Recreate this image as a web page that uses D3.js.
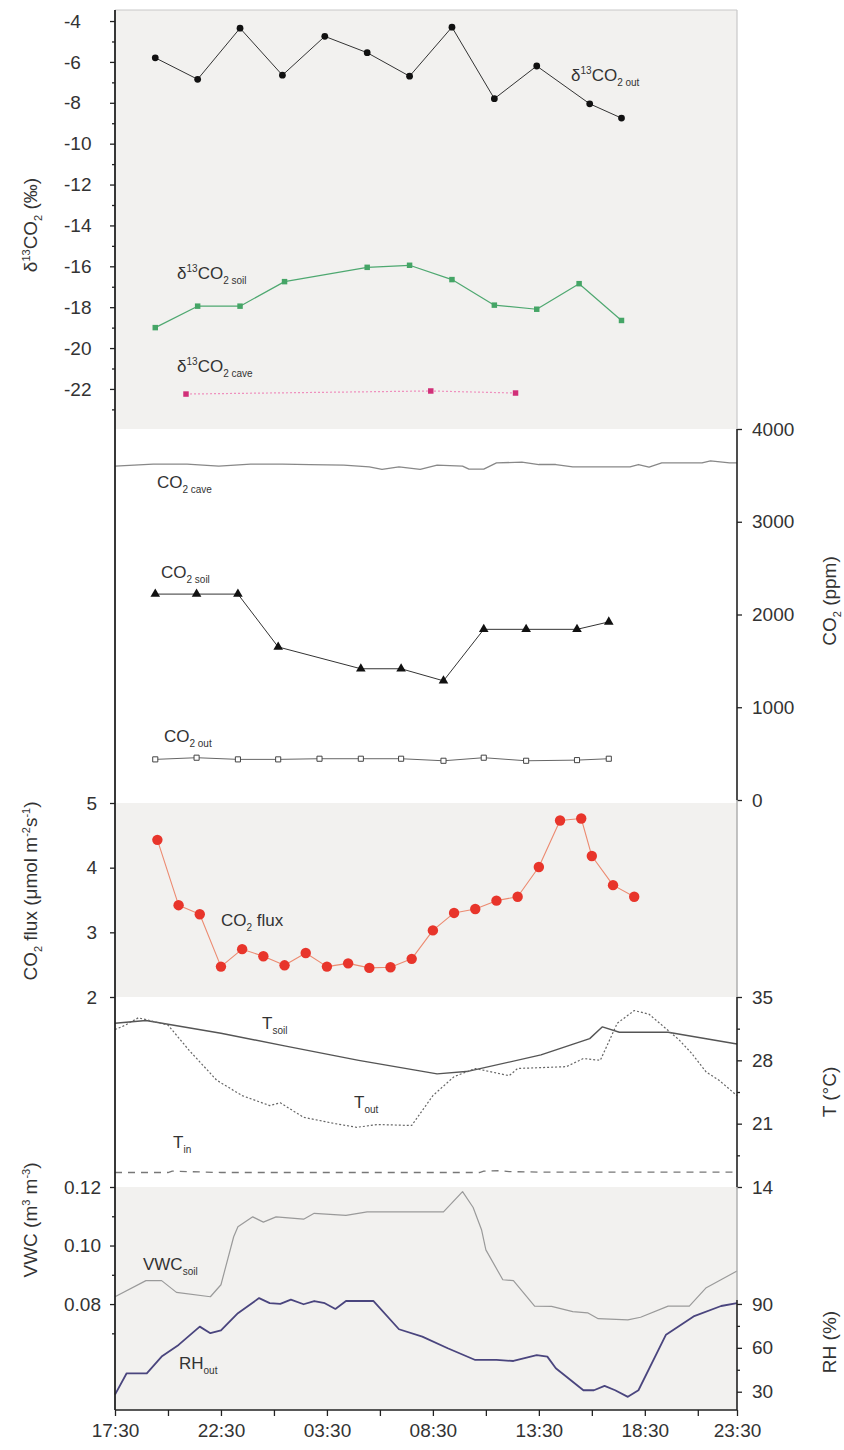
<!DOCTYPE html>
<html>
<head>
<meta charset="utf-8">
<script src="https://cdn.jsdelivr.net/npm/d3@7"></script>
<style>
  body { margin: 0; background: #fff; }
  svg text { font-family: "Liberation Sans", Arial, Helvetica, sans-serif; fill: #333; }
</style>
</head>
<body>
<div id="chart"></div>
<script>
// all x values are hours after 17:30 on day 1

// d13C panel
const hoursD13Out = [1.9, 3.9, 5.9, 7.9, 9.9, 11.9, 13.9, 15.9, 17.9, 19.9, 22.4, 23.9];
const d13Out = [-5.8, -6.85, -4.35, -6.65, -4.75, -5.55, -6.7, -4.3, -7.8, -6.2, -8.05, -8.75];
const hoursD13Soil = [1.9, 3.9, 5.9, 8.0, 11.9, 13.9, 15.9, 17.9, 19.9, 21.9, 23.9];
const d13Soil = [-19.0, -17.95, -17.95, -16.75, -16.05, -15.95, -16.65, -17.9, -18.1, -16.85, -18.65];
const hoursD13Cave = [3.35, 14.9, 18.9];
const d13Cave = [-22.25, -22.1, -22.2];

// CO2 concentrations (ppm)
const hoursCO2Cave = [0, 1.8, 3.4, 4.9, 6.4, 7.9, 9.2, 10.8, 12.0, 12.6, 13.4, 14.4, 15.2, 16.4, 16.7, 17.4, 18.0, 19.2, 20.0, 20.8, 21.6, 24.3, 24.7, 25.2, 25.8, 27.7, 28.1, 29.0, 29.35];
const co2Cave = [3599, 3621, 3621, 3599, 3621, 3621, 3615, 3610, 3592, 3564, 3592, 3564, 3610, 3599, 3567, 3567, 3635, 3642, 3617, 3617, 3592, 3592, 3617, 3588, 3635, 3635, 3656, 3635, 3635];
const hoursCO2Soil = [1.9, 3.85, 5.8, 7.7, 11.6, 13.5, 15.5, 17.4, 19.4, 21.8, 23.3];
const co2Soil = [2220, 2220, 2220, 1650, 1415, 1415, 1285, 1840, 1840, 1840, 1920];
const hoursCO2Out = [1.9, 3.85, 5.8, 7.7, 9.65, 11.6, 13.5, 15.5, 17.4, 19.4, 21.8, 23.3];
const co2Out = [438, 456, 438, 438, 445, 445, 445, 423, 456, 423, 430, 445];

// soil CO2 flux (umol m-2 s-1)
const hoursFlux = [2, 3, 4, 5, 6, 7, 8, 9, 10, 11, 12, 13, 14, 15, 16, 17, 18, 19, 20, 21, 22, 22.5, 23.5, 24.5];
const flux = [4.43, 3.42, 3.28, 2.47, 2.74, 2.63, 2.49, 2.68, 2.47, 2.52, 2.45, 2.46, 2.59, 3.03, 3.30, 3.36, 3.49, 3.55, 4.01, 4.73, 4.76, 4.18, 3.73, 3.55];

// temperatures (deg C)
const hoursTsoil = [0, 1.46, 5.0, 8.0, 11.5, 15.2, 16.7, 20.1, 22.4, 23.0, 23.8, 26.1, 29.35];
const tSoil = [32.1, 32.4, 31.0, 29.6, 28.0, 26.5, 26.8, 28.6, 30.4, 31.7, 31.1, 31.1, 29.8];
const hoursTout = [0, 0.5, 1.1, 2.5, 3.5, 4.8, 6.0, 7.3, 7.8, 8.9, 10.4, 11.4, 12.4, 14.0, 15.0, 16.0, 17.0, 18.6, 19.0, 21.3, 22.1, 22.9, 23.7, 24.5, 25.2, 26.6, 27.2, 27.9, 28.5, 29.35];
const tOut = [31.4, 31.9, 32.7, 31.9, 29.1, 25.8, 24.1, 23.0, 23.3, 21.7, 21.0, 20.6, 20.9, 20.8, 24.1, 26.2, 27.1, 26.3, 27.1, 27.3, 28.2, 28.0, 32.1, 33.5, 33.1, 30.3, 28.8, 26.7, 25.8, 24.1];
const hoursTin = [0, 2.5, 2.7, 5, 10, 15, 17.2, 17.4, 18.2, 18.6, 20, 25, 29.35];
const tIn = [15.6, 15.6, 15.75, 15.6, 15.6, 15.6, 15.6, 15.75, 15.8, 15.7, 15.65, 15.65, 15.65];

// soil water content (m3 m-3) and outside humidity (%)
const hoursVWC = [0, 1.46, 2.2, 2.9, 4.5, 5.0, 5.6, 5.8, 6.5, 7.0, 7.6, 8.9, 9.4, 10.9, 11.9, 15.5, 16.4, 16.9, 17.3, 17.5, 18.3, 18.8, 19.8, 20.6, 21.6, 22.3, 22.8, 24.2, 24.8, 26.1, 27.1, 27.9, 29.35];
const vwcSoil = [0.0825, 0.088, 0.088, 0.084, 0.0825, 0.0866, 0.103, 0.1064, 0.1098, 0.108, 0.1098, 0.109, 0.111, 0.1103, 0.1115, 0.1115, 0.1184, 0.113, 0.1053, 0.0985, 0.0883, 0.088, 0.0793, 0.0792, 0.0774, 0.077, 0.075, 0.0746, 0.0755, 0.0793, 0.0793, 0.0856, 0.0913];
const hoursRH = [0, 0.55, 1.5, 2.2, 3.0, 4.0, 4.5, 5.0, 5.8, 6.8, 7.3, 7.8, 8.3, 8.9, 9.4, 9.9, 10.4, 10.9, 12.2, 13.4, 14.5, 15.7, 17.0, 18.0, 18.8, 19.9, 20.4, 20.8, 22.1, 22.6, 23.1, 23.6, 24.2, 24.7, 26.0, 27.3, 28.6, 29.35];
const rhOut = [28, 42.6, 42.6, 54, 62, 74.5, 70, 72, 83.7, 94, 90.6, 90, 93, 89.8, 92, 90.5, 86.6, 92, 92, 72.7, 67.7, 59.7, 51.7, 51.7, 51, 55, 54, 46, 31, 31, 34, 31, 26.5, 31, 69, 81.5, 88.6, 90.5];

// axis ticks
const xMajor = [0, 5, 10, 15, 20, 25, 29.35];
const xMinor = [2.5, 7.5, 12.5, 17.5, 22.5, 27.5];
const xLabels = ["17:30", "22:30", "03:30", "08:30", "13:30", "18:30", "23:30"];
const d13Ticks = [-22, -20, -18, -16, -14, -12, -10, -8, -6, -4];
const co2Ticks = [0, 1000, 2000, 3000, 4000];
const fluxTicks = [2, 3, 4, 5];
const tTicks = [14, 21, 28, 35];
const vwcTicks = [0.08, 0.10, 0.12];
const rhTicks = [30, 60, 90];

const W = 844, H = 1450;
const svg = d3.select("#chart").append("svg")
  .attr("width", W).attr("height", H)
  .style("display", "block");

var x = d3.scaleLinear().domain([0, 29.35]).range([115, 737]);
var yD13 = d3.scaleLinear().domain([-23.96, -3.46]).range([429, 10]);
var yCO2 = d3.scaleLinear().domain([0, 4000]).range([800, 429]);
var yFlux = d3.scaleLinear().domain([2, 5]).range([997, 803]);
var yT = d3.scaleLinear().domain([14, 35]).range([1187, 997]);
var yVWC = d3.scaleLinear().domain([0.0438, 0.12]).range([1410, 1187]);
var yRH = d3.scaleLinear().domain([17.5, 92.7]).range([1410, 1300]);

const BG = "#f2f1ef";
function panel(y0, y1) {
  svg.append("rect")
    .attr("x", x.range()[0]).attr("y", y0)
    .attr("width", x.range()[1] - x.range()[0]).attr("height", y1 - y0)
    .attr("fill", BG);
}
panel(yD13.range()[1], yD13.range()[0]);
panel(yFlux(5), yFlux(2));
panel(yVWC(0.12), yVWC.range()[0]);

function zip(xs, ys) { return xs.map((h, i) => [h, ys[i]]); }

function drawLine(xs, ys, yScale, stroke, width, dash) {
  svg.append("path")
    .datum(zip(xs, ys))
    .attr("fill", "none")
    .attr("stroke", stroke)
    .attr("stroke-width", width)
    .attr("stroke-dasharray", dash || null)
    .attr("stroke-linejoin", "round")
    .attr("d", d3.line().x(d => x(d[0])).y(d => yScale(d[1])));
}

function drawSymbols(xs, ys, yScale, type, size, fill, stroke) {
  svg.append("g").selectAll("path")
    .data(zip(xs, ys))
    .join("path")
    .attr("transform", d => `translate(${x(d[0])},${yScale(d[1])})`)
    .attr("d", d3.symbol().type(type).size(size))
    .attr("fill", fill)
    .attr("stroke", stroke || "none")
    .attr("stroke-width", 1);
}

// d13C
drawLine(hoursD13Out, d13Out, yD13, "#333", 1);
drawSymbols(hoursD13Out, d13Out, yD13, d3.symbolCircle, 36, "#111");
drawLine(hoursD13Soil, d13Soil, yD13, "#4ea870", 1.2);
drawSymbols(hoursD13Soil, d13Soil, yD13, d3.symbolSquare, 30, "#45a566");
drawLine(hoursD13Cave, d13Cave, yD13, "#ef8fbd", 1.2, "2,2");
drawSymbols(hoursD13Cave, d13Cave, yD13, d3.symbolSquare, 30, "#d12f78");

// CO2 ppm
drawLine(hoursCO2Cave, co2Cave, yCO2, "#888", 1.3);
drawLine(hoursCO2Soil, co2Soil, yCO2, "#333", 1);
drawSymbols(hoursCO2Soil, co2Soil, yCO2, d3.symbolTriangle, 40, "#111");
drawLine(hoursCO2Out, co2Out, yCO2, "#666", 1);
drawSymbols(hoursCO2Out, co2Out, yCO2, d3.symbolSquare, 26, "#fff", "#444");

// flux
drawLine(hoursFlux, flux, yFlux, "#ec8a70", 1.1);
drawSymbols(hoursFlux, flux, yFlux, d3.symbolCircle, 85, "#e8352b");

// temperatures
drawLine(hoursTsoil, tSoil, yT, "#555", 1.4);
drawLine(hoursTout, tOut, yT, "#666", 1.2, "2,2");
drawLine(hoursTin, tIn, yT, "#777", 1.3, "7,6");

// VWC and RH
drawLine(hoursVWC, vwcSoil, yVWC, "#9a9a9a", 1.2);
drawLine(hoursRH, rhOut, yRH, "#4a457e", 1.8);

// axes
const TICK_FONT = 19;
function tidy(g) {
  g.select(".domain").remove();
  g.selectAll(".tick line").attr("stroke", "#222").attr("stroke-width", 1.3);
  g.selectAll("text").attr("font-size", TICK_FONT).attr("fill", "#333");
}
function minor(gen, vals) { return gen.tickValues(vals).tickSize(3).tickFormat(""); }
const plain = d => String(d);

const L = x.range()[0], R = x.range()[1];

// left side
svg.append("g").attr("transform", `translate(${L},0)`)
  .call(d3.axisLeft(yD13).tickValues(d13Ticks).tickSize(5).tickFormat(plain))
  .call(tidy)
  .call(g => g.selectAll("text").attr("text-anchor", "start").attr("x", -51));
svg.append("g").attr("transform", `translate(${L},0)`)
  .call(minor(d3.axisLeft(yD13), d3.range(-23, -3, 2)))
  .call(tidy);
svg.append("g").attr("transform", `translate(${L},0)`)
  .call(d3.axisLeft(yFlux).tickValues(fluxTicks).tickSize(5).tickPadding(13).tickFormat(plain))
  .call(tidy);
svg.append("g").attr("transform", `translate(${L},0)`)
  .call(d3.axisLeft(yVWC).tickValues(vwcTicks).tickSize(5).tickPadding(9).tickFormat(d3.format(".2f")))
  .call(tidy);
svg.append("g").attr("transform", `translate(${L},0)`)
  .call(minor(d3.axisLeft(yVWC), [0.07, 0.09, 0.11]))
  .call(tidy);

// right side
svg.append("g").attr("transform", `translate(${R},0)`)
  .call(d3.axisRight(yCO2).tickValues(co2Ticks).tickSize(5).tickPadding(10).tickFormat(plain))
  .call(tidy);
svg.append("g").attr("transform", `translate(${R},0)`)
  .call(d3.axisRight(yT).tickValues(tTicks).tickSize(5).tickPadding(10).tickFormat(plain))
  .call(tidy);
svg.append("g").attr("transform", `translate(${R},0)`)
  .call(minor(d3.axisRight(yT), [17.5, 24.5, 31.5]))
  .call(tidy);
svg.append("g").attr("transform", `translate(${R},0)`)
  .call(d3.axisRight(yRH).tickValues(rhTicks).tickSize(5).tickPadding(10).tickFormat(plain))
  .call(tidy);
svg.append("g").attr("transform", `translate(${R},0)`)
  .call(minor(d3.axisRight(yRH), [45, 75]))
  .call(tidy);

// bottom time axis
const bottomY = yVWC.range()[0];
svg.append("g").attr("transform", `translate(0,${bottomY})`)
  .call(d3.axisBottom(x).tickValues(xMajor).tickSize(6).tickPadding(8)
    .tickFormat((d, i) => xLabels[i]))
  .call(tidy);
svg.append("g").attr("transform", `translate(0,${bottomY})`)
  .call(d3.axisBottom(x).tickValues(xMinor).tickSize(6).tickFormat(""))
  .call(tidy);

// frame lines
function vline(xx, y0, y1, col, w) {
  svg.append("line").attr("x1", xx).attr("x2", xx).attr("y1", y0).attr("y2", y1)
    .attr("stroke", col).attr("stroke-width", w);
}
const topY = yD13.range()[1];
svg.append("line").attr("x1", L).attr("x2", R).attr("y1", topY).attr("y2", topY)
  .attr("stroke", "#c8c8c8").attr("stroke-width", 1);
vline(R, topY, yCO2.range()[1], "#c8c8c8", 1.2);
vline(R, yCO2.range()[1], yCO2.range()[0], "#222", 1.6);
vline(R, yCO2.range()[0], yT.range()[1], "#aaa", 1.4);
vline(R, yT.range()[1], yT.range()[0], "#222", 1.6);
vline(R, yT.range()[0], yRH.range()[1], "#aaa", 1.4);
vline(R, yRH.range()[1], bottomY, "#222", 1.6);
vline(L, topY, bottomY, "#222", 1.8);
svg.append("line").attr("x1", L).attr("x2", R).attr("y1", bottomY).attr("y2", bottomY)
  .attr("stroke", "#222").attr("stroke-width", 1.6);

// rich text helper: parts are [text, kind] with kind "", "sup" or "sub"
function rich(sel, parts, size) {
  let shift = 0;
  parts.forEach(([t, kind]) => {
    const target = kind === "sup" ? -7 : kind === "sub" ? 5 : 0;
    sel.append("tspan")
      .attr("dy", target - shift)
      .attr("font-size", kind ? Math.round(size * 0.58) : size)
      .text(t);
    shift = target;
  });
}

function seriesLabel(h, v, yScale, parts) {
  const t = svg.append("text").attr("x", x(h)).attr("y", yScale(v)).attr("font-size", 17);
  rich(t, parts, 17);
}
seriesLabel(21.52, -6.94, yD13, [["δ", ""], ["13", "sup"], ["CO", ""], ["2 out", "sub"]]);
seriesLabel(2.93, -16.62, yD13, [["δ", ""], ["13", "sup"], ["CO", ""], ["2 soil", "sub"]]);
seriesLabel(2.93, -21.17, yD13, [["δ", ""], ["13", "sup"], ["CO", ""], ["2 cave", "sub"]]);
seriesLabel(1.98, 3361, yCO2, [["CO", ""], ["2 cave", "sub"]]);
seriesLabel(2.17, 2392, yCO2, [["CO", ""], ["2 soil", "sub"]]);
seriesLabel(2.31, 625, yCO2, [["CO", ""], ["2 out", "sub"]]);
seriesLabel(5.0, 3.10, yFlux, [["CO", ""], ["2", "sub"], [" flux", ""]]);
seriesLabel(6.94, 31.46, yT, [["T", ""], ["soil", "sub"]]);
seriesLabel(11.28, 22.73, yT, [["T", ""], ["out", "sub"]]);
seriesLabel(2.74, 18.31, yT, [["T", ""], ["in", "sub"]]);
seriesLabel(1.32, 0.0916, yVWC, [["VWC", ""], ["soil", "sub"]]);
seriesLabel(3.02, 45.5, yRH, [["RH", ""], ["out", "sub"]]);

// axis titles
function axisTitle(cx, cy, parts, size) {
  const t = svg.append("text")
    .attr("transform", `translate(${cx},${cy}) rotate(-90)`)
    .attr("text-anchor", "middle").attr("font-size", size);
  rich(t, parts, size);
}
axisTitle(37, 225, [["δ", ""], ["13", "sup"], ["CO", ""], ["2", "sub"], [" (‰)", ""]], 19);
axisTitle(836, 601, [["CO", ""], ["2", "sub"], [" (ppm)", ""]], 19);
axisTitle(37, 891, [["CO", ""], ["2", "sub"], [" flux (μmol m", ""], ["-2", "sup"], ["s", ""], ["-1", "sup"], [")", ""]], 19);
axisTitle(836, 1092, [["T (°C)", ""]], 19);
axisTitle(37, 1220, [["VWC (m", ""], ["3", "sup"], [" m", ""], ["-3", "sup"], [")", ""]], 19);
axisTitle(836, 1342, [["RH (%)", ""]], 19);
</script>
</body>
</html>
